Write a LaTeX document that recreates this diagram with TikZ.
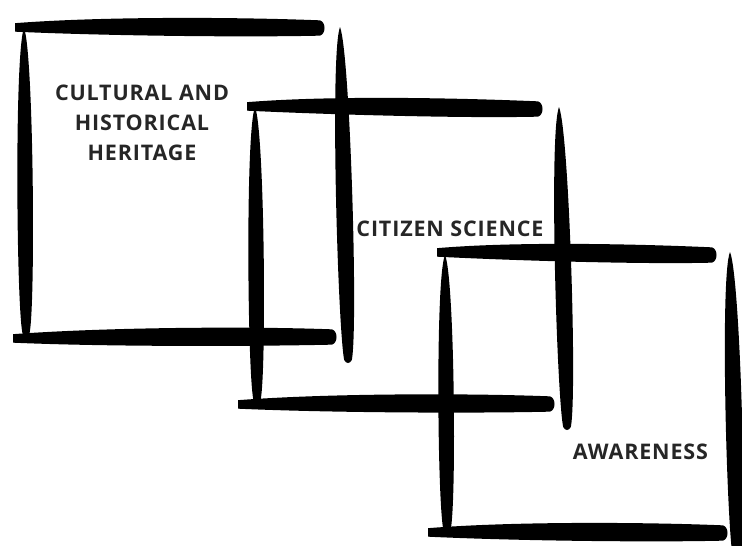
\documentclass[tikz,border=0pt]{standalone}
\usepackage{fontspec}
\setmainfont{Open Sans}[LetterSpace=4]
\newcommand\hbrush[5]{%
  \fill[black] (#1,{#2-0.45*#5})
    .. controls ({#1+0.3*(#3-#1)},{#2-1.3*#5}) and ({#3-0.25*(#3-#1)},{#4-1.25*#5}) .. ({#3-5},{#4-0.9*#5})
    .. controls ({#3+1},{#4-0.7*#5}) and ({#3+1},{#4+0.7*#5}) .. ({#3-5},{#4+0.9*#5})
    .. controls ({#3-0.25*(#3-#1)},{#4+1.1*#5}) and ({#1+0.3*(#3-#1)},{#2+1.05*#5}) .. (#1,{#2+0.55*#5}) -- cycle;}
\newcommand\vbrush[5]{%
  \fill[black] (#1,#2)
    .. controls ({#1+1.2*#5},{#2+0.08*(#4-#2)}) and ({#3+1.2*#5},{#4-0.1*(#4-#2)}) .. ({#3+0.45*#5},#4)
    .. controls ({#3+0.2*#5},{#4+4}) and ({#3-0.2*#5},{#4+4}) .. ({#3-0.45*#5},#4)
    .. controls ({#3-1.2*#5},{#4-0.1*(#4-#2)}) and ({#1-1.2*#5},{#2+0.08*(#4-#2)}) .. (#1,#2) -- cycle;}
\tikzset{lbl/.style={font=\bfseries\fontsize{21.5}{30}\selectfont, text=black!85, inner sep=0pt, align=center}}
\begin{document}
\begin{tikzpicture}[x=1pt,y=-1pt]
\useasboundingbox (0,0) rectangle (742,546);
\clip (0,0) rectangle (742,546);
\fill[white] (0,0) rectangle (742,546);
% square 1
\hbrush{15}{27}{325}{28}{8.5}
\vbrush{24}{28}{26}{333}{8}
\vbrush{340}{27}{348}{360}{8.5}
\hbrush{13}{338}{337}{337}{8.5}
% square 2
\hbrush{247}{106}{543}{109}{8.5}
\vbrush{255}{107}{257}{400}{8}
\vbrush{559}{107}{567}{427}{8.5}
\hbrush{238}{404}{555}{404}{8.5}
% square 3
\hbrush{437}{252}{717}{255}{8.5}
\vbrush{445}{255}{447}{530}{8}
\vbrush{730}{252}{737}{560}{8.5}
\hbrush{428}{532}{728}{533}{8.5}
% labels
\node[lbl] (heritage) at (142,122.5) {CULTURAL AND\\HISTORICAL\\HERITAGE};
\node[lbl] (citizen) at (450,228.5) {CITIZEN SCIENCE};
\node[lbl] (awareness) at (640.5,451.5) {AWARENESS};
\end{tikzpicture}
\end{document}
